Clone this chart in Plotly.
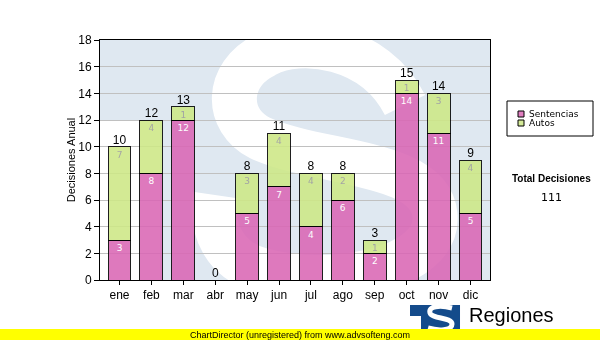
import plotly.graph_objects as go

months = ["ene", "feb", "mar", "abr", "may", "jun", "jul", "ago", "sep", "oct", "nov", "dic"]
sentencias = [3, 8, 12, 0, 5, 7, 4, 6, 2, 14, 11, 5]
autos = [7, 4, 1, 0, 3, 4, 4, 2, 1, 1, 3, 4]
totals = [s + a for s, a in zip(sentencias, autos)]
grand_total = sum(totals)
series_names = ["Sentencias", "Autos"]
series_colors = ["rgb(218,103,181)", "rgb(205,231,134)"]
legend_swatch = ["#e07ec0", "#d4ea98"]

W, H = 600, 340
L, R, T, B = 100, 110, 40, 60
PW, PH = W - L - R, H - T - B


def P(px, py):
    return (px - L) / PW, (H - B - py) / PH


def path(cmds):
    out = []
    for c in cmds:
        if isinstance(c, str):
            out.append(c)
        else:
            x, y = P(*c)
            out.append(f"{x:.4f},{y:.4f}")
    return " ".join(out)


def lbl(v):
    return [str(x) if x else "" for x in v]


fig = go.Figure()
fig.add_trace(go.Bar(
    x=months, y=sentencias, name=series_names[0],
    marker=dict(color=series_colors[0], line=dict(color="black", width=1)),
    opacity=0.88,
    text=lbl(sentencias), textposition="inside", insidetextanchor="end",
    textangle=0,
    textfont=dict(family="DejaVu Sans", size=9, color="white"),
))
fig.add_trace(go.Bar(
    x=months, y=autos, name=series_names[1],
    marker=dict(color=series_colors[1], line=dict(color="black", width=1)),
    opacity=0.88,
    text=lbl(autos), textposition="inside", insidetextanchor="end",
    textangle=0,
    textfont=dict(family="DejaVu Sans", size=9, color="#999999"),
))
fig.add_trace(go.Scatter(
    x=months, y=totals, mode="text", text=[str(t) for t in totals],
    textposition="top center", showlegend=False, cliponaxis=False,
    textfont=dict(family="Liberation Sans", size=12, color="black"),
    hoverinfo="skip",
))

shapes = []
# watermark: light blue block
shapes.append(dict(type="path", xref="paper", yref="paper", layer="below",
                   path=path(["M", (100, 40), "L", (490, 40), "L", (490, 280), "L", (160, 280),
                              "L", (160, 120), "L", (100, 120), "Z"]),
                   fillcolor="#dfe8f1", line=dict(width=0)))
# watermark: white S
shapes.append(dict(type="path", xref="paper", yref="paper", layer="below",
                   path=path(["M", (405, 105), "C", (375, 45), (300, 35), (265, 55),
                              "C", (225, 75), (225, 120), (260, 138),
                              "C", (320, 165), (430, 160), (435, 215),
                              "C", (440, 270), (330, 290), (260, 270),
                              "C", (225, 260), (210, 230), (215, 195)]),
                   line=dict(color="white", width=45)))

# manual legend
shapes.append(dict(type="rect", xref="paper", yref="paper", layer="above",
                   x0=P(507, 0)[0], x1=P(593, 0)[0], y0=P(0, 101)[1], y1=P(0, 136)[1],
                   fillcolor="white", line=dict(color="black", width=1)))
annotations = []
for i, (nm, col) in enumerate(zip(series_names, legend_swatch)):
    yc = 114 + 9 * i
    shapes.append(dict(type="rect", xref="paper", yref="paper", layer="above",
                       x0=P(518, 0)[0], x1=P(524, 0)[0], y0=P(0, yc - 3)[1], y1=P(0, yc + 3)[1],
                       fillcolor=col, line=dict(color="black", width=1)))
    annotations.append(dict(text=nm, x=P(527, 0)[0], y=P(0, yc)[1], xref="paper", yref="paper",
                            xanchor="left", yanchor="middle", showarrow=False,
                            font=dict(family="DejaVu Sans", size=9, color="black")))

# logo
shapes.append(dict(type="path", xref="paper", yref="paper", layer="above",
                   path=path(["M", (410, 305), "L", (460, 305), "L", (460, 335), "L", (421, 335),
                              "L", (421, 316), "L", (410, 316), "Z"]),
                   fillcolor="#144b8b", line=dict(width=0)))
shapes.append(dict(type="path", xref="paper", yref="paper", layer="above",
                   path=path(["M", (452, 308), "C", (440, 305), (428, 306), (430, 313),
                              "C", (432, 319), (452, 317), (452, 324),
                              "C", (452, 331), (438, 331), (428, 328)]),
                   line=dict(color="white", width=5)))
# yellow banner
shapes.append(dict(type="rect", xref="paper", yref="paper", layer="above",
                   x0=P(0, 0)[0], x1=P(600, 0)[0], y0=P(0, 329)[1], y1=P(0, 340)[1],
                   fillcolor="#ffff00", line=dict(width=0)))

annotations += [
    dict(text="<b>Total Decisiones</b>", x=P(551, 0)[0], y=P(0, 178)[1], xref="paper", yref="paper",
         xanchor="center", yanchor="middle",
         showarrow=False, font=dict(family="Liberation Sans", size=10, color="black")),
    dict(text=str(grand_total), x=P(551, 0)[0], y=P(0, 197)[1], xref="paper", yref="paper",
         xanchor="center", yanchor="middle",
         showarrow=False, font=dict(family="DejaVu Sans", size=11, color="black")),
    dict(text="Regiones", x=P(467, 0)[0], y=P(0, 315)[1], xref="paper", yref="paper",
         xanchor="left", yanchor="middle",
         showarrow=False, font=dict(family="Liberation Sans", size=20, color="black")),
    dict(text="ChartDirector (unregistered) from www.advsofteng.com", x=P(300, 0)[0], y=P(0, 334.5)[1],
         xref="paper", yref="paper", xanchor="center", yanchor="middle", showarrow=False,
         font=dict(family="Liberation Sans", size=9, color="black")),
]

fig.update_layout(
    width=W, height=H, margin=dict(l=L, r=R, t=T, b=B, autoexpand=False),
    barmode="stack", bargap=0.28,
    paper_bgcolor="white", plot_bgcolor="white",
    font=dict(family="Liberation Sans", size=12, color="black"),
    shapes=shapes, annotations=annotations,
    uniformtext=dict(minsize=9, mode="show"),
    showlegend=False,
)
fig.update_xaxes(showline=True, linecolor="black", linewidth=1, mirror=True,
                 ticks="outside", ticklen=4, tickcolor="black",
                 tickfont=dict(family="Liberation Sans", size=12), showgrid=False)
fig.update_yaxes(range=[0, 18], dtick=2, showline=True, linecolor="black", linewidth=1, mirror=True,
                 ticks="outside", ticklen=5, tickcolor="black", gridcolor="#c0c0c0", zeroline=False,
                 tickfont=dict(family="Liberation Sans", size=12),
                 title=dict(text="Decisiones Anual", standoff=0,
                            font=dict(family="Liberation Sans", size=11)))

fig.write_html("out.html")
